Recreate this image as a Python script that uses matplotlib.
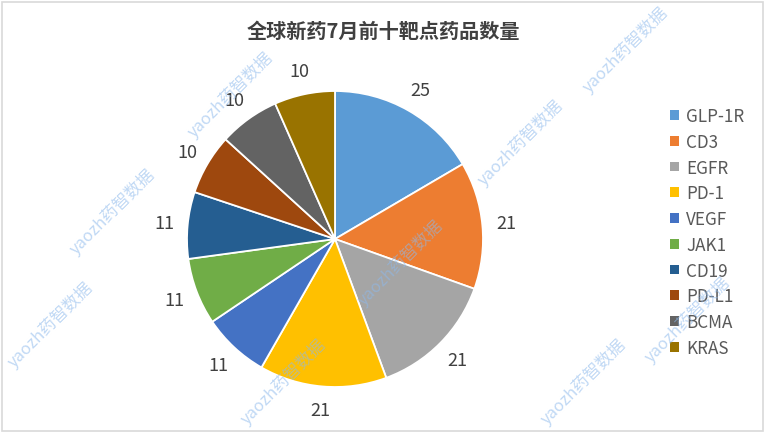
import matplotlib
matplotlib.use("Agg")
import matplotlib.pyplot as plt
from matplotlib.patches import Rectangle

plt.rcParams["font.family"] = ["Noto Sans CJK SC", "DejaVu Sans"]

title = "全球新药7月前十靶点药品数量"
targets = ["GLP-1R", "CD3", "EGFR", "PD-1", "VEGF", "JAK1", "CD19", "PD-L1", "BCMA", "KRAS"]
counts = [25, 21, 21, 21, 11, 11, 11, 10, 10, 10]
colors = ["#5B9BD5", "#ED7D31", "#A5A5A5", "#FFC000", "#4472C4",
          "#70AD47", "#255E91", "#9E480E", "#636363", "#997300"]

# watermark centres in pixels (x from left, y from top)
wm_x = [230, 112, 50, 283, 400, 520, 625, 687, 583]
wm_y = [95, 212, 325, 382, 263, 143, 50, 320, 382]

W, H = 767, 435
fig = plt.figure(figsize=(W / 100, H / 100), dpi=100)

# pie centre (335, 240) px, radius 148 px
cx, cy, r = 335, 240, 148
ax = fig.add_axes([(cx - r) / W, (H - cy - r) / H, 2 * r / W, 2 * r / H])
wedges, texts = ax.pie(counts, labels=[str(c) for c in counts], colors=colors,
                       startangle=90, counterclock=False, labeldistance=1.16,
                       wedgeprops=dict(edgecolor="white", linewidth=1.3),
                       textprops=dict(fontsize=13, color="#404040"))
for t in texts:
    t.set_ha("center")
    t.set_va("center")
ax.set_xlim(-1, 1)
ax.set_ylim(-1, 1)
ax.set_aspect("equal")
ax.axis("off")

fig.text(383 / W, 1 - 31 / H, title, ha="center", va="center",
         fontsize=14.5, fontweight="bold", color="#404040")

leg = fig.legend(wedges, targets, loc="upper left", bbox_to_anchor=(670 / W, 1 - 108 / H),
                 frameon=False, fontsize=12.3, handlelength=0.5, handleheight=0.5,
                 handletextpad=0.45, labelspacing=0.455, borderpad=0, borderaxespad=0)
for t in leg.get_texts():
    t.set_color("#595959")
for h in leg.legend_handles:
    h.set_edgecolor("none")

# watermark
for x, y in zip(wm_x, wm_y):
    fig.text(x / W, 1 - y / H, "yaozh药智数据", ha="center", va="center", rotation=45,
             fontsize=12, color="#8DB9EC", alpha=0.55, zorder=10)

fig.patches.append(Rectangle((2 / W, 3 / H), 761 / W, 429 / H, transform=fig.transFigure,
                             fill=False, edgecolor="#D9D9D9", linewidth=1.2))

fig.savefig("out.png", dpi=100)
